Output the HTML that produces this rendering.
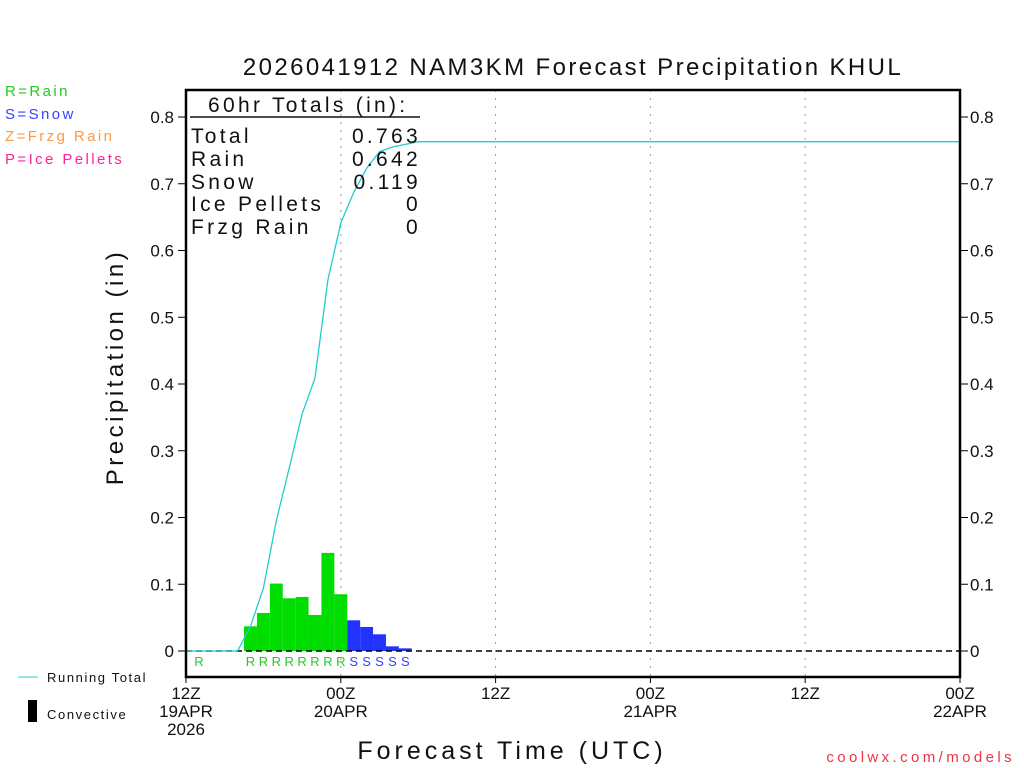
<!DOCTYPE html>
<html><head><meta charset="utf-8"><style>
body{margin:0;background:#fff;width:1024px;height:768px;overflow:hidden}
svg{display:block;font-family:"Liberation Sans",sans-serif}
</style></head><body>
<svg id="chart" width="1024" height="768" viewBox="0 0 1024 768">
<text x="573" y="75" text-anchor="middle" font-size="24" fill="#111" letter-spacing="2.4">2026041912 NAM3KM Forecast Precipitation KHUL</text>
<g font-size="15" letter-spacing="2.4">
<text x="5" y="96" fill="#22cc22">R=Rain</text>
<text x="5" y="119" fill="#3344ff">S=Snow</text>
<text x="5" y="141" fill="#ff9944">Z=Frzg Rain</text>
<text x="5" y="164" fill="#ff2299">P=Ice Pellets</text>
</g>
<text transform="translate(123,367) rotate(-90)" text-anchor="middle" font-size="24" fill="#111" letter-spacing="3.5">Precipitation (in)</text>
<text x="512" y="759" text-anchor="middle" font-size="25" fill="#111" letter-spacing="4">Forecast Time (UTC)</text>
<text x="1015" y="762" text-anchor="end" font-size="15" fill="#ee3344" letter-spacing="3.4">coolwx.com/models</text>
<g font-size="13" fill="#111">
<line x1="18" y1="677" x2="38" y2="677" stroke="#22cccc"/>
<text x="47" y="682" letter-spacing="1.6">Running Total</text>
<rect x="28" y="700" width="9" height="22" fill="#000"/>
<text x="47" y="719" letter-spacing="1.6">Convective</text>
</g>
<g id="grid"></g>
<g id="bars"></g>
<g id="ptype" font-size="13"></g>
<g id="axes"></g>
<g font-size="21" fill="#111" letter-spacing="3.3">
<text x="208" y="112">60hr Totals (in):</text>
<line x1="190" y1="117" x2="420" y2="117" stroke="#111" stroke-width="1.5"/>
<text x="191" y="143">Total</text><text x="421" y="143" text-anchor="end">0.763</text>
<text x="191" y="166">Rain</text><text x="421" y="166" text-anchor="end">0.642</text>
<text x="191" y="189">Snow</text><text x="421" y="189" text-anchor="end">0.119</text>
<text x="191" y="211">Ice Pellets</text><text x="421" y="211" text-anchor="end">0</text>
<text x="191" y="234">Frzg Rain</text><text x="421" y="234" text-anchor="end">0</text>
</g>
</svg>
<script>
const hours=[5,6,7,8,9,10,11,12,13,14,15,16,17];
const amounts=[0.037,0.057,0.101,0.079,0.081,0.054,0.147,0.085,0.046,0.036,0.025,0.007,0.004];
const types=["R","R","R","R","R","R","R","R","S","S","S","S","S"];
const extraLabelHours=[1];
const extraLabelTypes=["R"];
const finalTotal=0.763;
const yTicks=[0,0.1,0.2,0.3,0.4,0.5,0.6,0.7,0.8];
const yTickLabels=["0","0.1","0.2","0.3","0.4","0.5","0.6","0.7","0.8"];
const xTickHours=[0,12,24,36,48,60];
const xTickLabels=[["12Z","19APR","2026"],["00Z","20APR"],["12Z"],["00Z","21APR"],["12Z"],["00Z","22APR"]];

const L=186,R=960,T=90,B=677,Y0=651,YPER=667.5,HPX=(R-L)/60;
const x=h=>L+h*HPX, y=v=>Y0-v*YPER;
const NS="http://www.w3.org/2000/svg";
function mk(tag,parent,attrs){const e=document.createElementNS(NS,tag);for(const k in attrs)e.setAttribute(k,attrs[k]);parent.appendChild(e);return e;}
const grid=document.getElementById('grid'),bars=document.getElementById('bars'),pt=document.getElementById('ptype'),ax=document.getElementById('axes');
xTickHours.forEach(h=>{if(h>0&&h<60){const g=mk('line',grid,{x1:x(h),x2:x(h),y1:T,y2:B,stroke:'#999','stroke-dasharray':'2,6'});

}});
const col={R:'#00dd00',S:'#2233ff'}, tcol={R:'#22cc22',S:'#3344ff'};
hours.forEach((h,i)=>{const r=mk('rect',bars,{x:x(h-0.5),y:y(amounts[i]),width:HPX,height:Y0-y(amounts[i]),fill:col[types[i]]});


const t=mk('text',pt,{x:x(h),y:666,'text-anchor':'middle',fill:tcol[types[i]]});t.textContent=types[i];

});
extraLabelHours.forEach((h,i)=>{const t=mk('text',pt,{x:x(h),y:666,'text-anchor':'middle',fill:tcol[extraLabelTypes[i]]});t.textContent=extraLabelTypes[i];

});
const z=mk('line',ax,{x1:L,x2:R,y1:Y0,y2:Y0,stroke:'#000','stroke-width':1.5,'stroke-dasharray':'6,4'});


let cum=0,pts=[[x(0),y(0)],[x(hours[0]-1),y(0)]];
hours.forEach((h,i)=>{cum+=amounts[i];pts.push([x(h),y(cum)]);});
pts.push([x(hours[hours.length-1]+1),y(finalTotal)]);pts.push([x(60),y(finalTotal)]);
const pl=mk('polyline',ax,{points:pts.map(p=>p.join(',')).join(' '),fill:'none',stroke:'#22cccc','stroke-width':1.3});


const fr=mk('rect',ax,{x:L,y:T,width:R-L,height:B-T,fill:'none',stroke:'#000','stroke-width':2.5});


yTicks.forEach((v,i)=>{mk('line',ax,{x1:L-8,x2:L,y1:y(v),y2:y(v),stroke:'#000'});mk('line',ax,{x1:R,x2:R+8,y1:y(v),y2:y(v),stroke:'#000'});
const a=mk('text',ax,{x:L-12,y:y(v)+6,'text-anchor':'end','font-size':17,fill:'#111'});a.textContent=yTickLabels[i];


const b=mk('text',ax,{x:R+10,y:y(v)+6,'font-size':17,fill:'#111'});b.textContent=yTickLabels[i];

});
xTickHours.forEach((h,i)=>{mk('line',ax,{x1:x(h),x2:x(h),y1:B,y2:B+6,stroke:'#000'});
xTickLabels[i].forEach((s,j)=>{const t=mk('text',ax,{x:x(h),y:699+j*18,'text-anchor':'middle','font-size':17,fill:'#111'});t.textContent=s;

});});
</script>
</body></html>
